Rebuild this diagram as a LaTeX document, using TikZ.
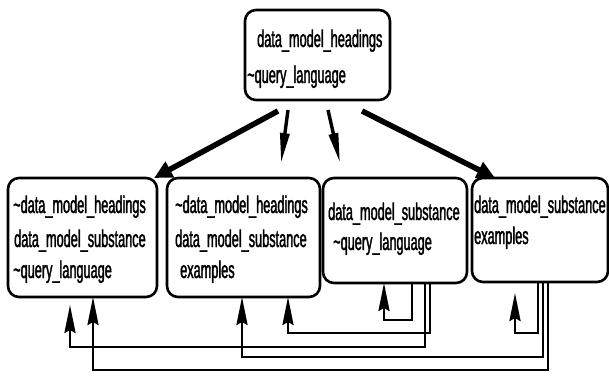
\documentclass[tikz,border=0pt]{standalone}
\usepackage{fontspec}
\newfontfamily\lab{Liberation Sans}[FakeStretch=0.53,FakeBold=1.5]
\usetikzlibrary{arrows.meta}
\begin{document}
\begin{tikzpicture}[x=1pt,y=-1pt,
  box/.style={draw, line width=2.6pt, rounded corners=11pt, inner sep=0pt, outer sep=0pt},
  txt/.style={anchor=base west, inner sep=0pt, font=\lab\fontsize{24}{26}\selectfont},
  fat/.style={line width=5.5pt, -{Triangle[length=18pt,width=17pt]}},
  slim/.style={line width=3.4pt, -{Triangle[length=30pt,width=9pt]}},
  conn/.style={line width=2.7pt, -{Stealth[length=28pt,width=11pt,inset=3pt]}}]
\useasboundingbox[fill=white] (0,0) rectangle (609,375);

% boxes
\node[box, minimum width=145pt, minimum height=90pt]  (top) at (317.5,55) {};
\node[box, minimum width=149pt, minimum height=119pt] (b1) at (82.5,237.5) {};
\node[box, minimum width=153pt, minimum height=119pt] (b2) at (243.5,237.5) {};
\node[box, minimum width=144pt, minimum height=105pt] (b3) at (395,230.5) {};
\node[box, minimum width=136pt, minimum height=104pt] (b4) at (540,230) {};

% box contents
\node[txt] (top1) at (257,47) {data\_model\_headings};
\node[txt] (top2) at (247,83) {\textasciitilde query\_language};
\node[txt] (b1a) at (13,213) {\textasciitilde data\_model\_headings};
\node[txt] (b1b) at (14,247) {data\_model\_substance};
\node[txt] (b1c) at (13,278) {\textasciitilde query\_language};
\node[txt] (b2a) at (175,213) {\textasciitilde data\_model\_headings};
\node[txt] (b2b) at (175,247) {data\_model\_substance};
\node[txt] (b2c) at (180,278) {examples};
\node[txt] (b3a) at (328,220) {data\_model\_substance};
\node[txt] (b3b) at (333,250) {\textasciitilde query\_language};
\node[txt] (b4a) at (474,213) {data\_model\_substance};
\node[txt] (b4b) at (474,244) {examples};

% arrows from the top box
\draw[fat]  ([xshift=33pt,yshift=-11pt]top.south west) -- ([xshift=-3pt]b1.north east);
\draw[slim] ([xshift=43pt,yshift=-10pt]top.south west) -- ([xshift=37.5pt,yshift=15pt]b2.north);
\draw[slim] ([xshift=83pt,yshift=-10pt]top.south west) -- ([xshift=-55pt,yshift=15pt]b3.north);
\draw[fat]  ([xshift=117pt,yshift=-11pt]top.south west) -- ([xshift=23pt]b4.north west);

% vertical positions of the return lines
\coordinate (x70) at (70,0);
\coordinate (x93) at (93,0);
\coordinate (x242) at (242,0);
\coordinate (x288) at (288,0);
\coordinate (x384) at (384,0);
\coordinate (x412) at (412,0);
\coordinate (x425) at (425,0);
\coordinate (x430) at (430,0);
\coordinate (x538) at (538,0);
\coordinate (x543) at (543,0);
\coordinate (x548) at (548,0);
\coordinate (e1) at (70,305);
\coordinate (e2) at (515,293);

% return lines
\draw[conn] (b3.south -| x412) -- ++(0,37) -| (b3.south -| x384);
\draw[conn] (b3.south -| x425) -- ++(0,64) -| (e1);
\draw[conn] (b3.south -| x430) -- ++(0,50) -| (b2.south -| x288);
\draw[conn] (b4.south -| x538) -- ++(0,51) -| (e2);
\draw[conn] (b4.south -| x543) -- ++(0,75) -| (b2.south -| x242);
\draw[conn] (b4.south -| x548) -- ++(0,88) -| (b1.south -| x93);
\end{tikzpicture}
\end{document}
